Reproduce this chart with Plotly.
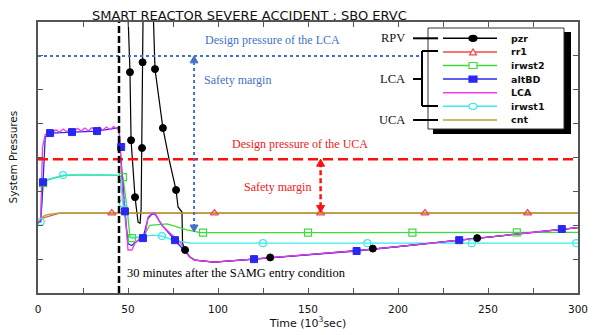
import plotly.graph_objects as go

# ---------------- data (time in 10^3 s, pressure in axis units 0..8) ----------------
x_tick_vals = [0, 50, 100, 150, 200, 250, 300]
x_tick_text = ["0", "50", "100", "150", "200", "250", "300"]
x_minor_vals = [25, 75, 125, 175, 225, 275]

pzr_t = [0, 20, 45, 49.5, 51.1, 51.7, 53.9, 55.6, 56.7, 57.3, 57.8, 58.1, 58.6, 61, 63.6, 65,
         69.4, 73, 76.7, 77.8, 80, 80.3, 81.7, 84.4, 87.2, 97.8, 120, 150, 177, 200, 234, 260, 291, 300]
pzr_v = [15, 15, 15, 9, 6.52, 4.51, 2.83, 2.09, 2.06, 2.5, 4.28, 6.81, 9.5, 12, 9, 6.61,
         4.87, 3.9, 3.04, 2.54, 2.39, 1.47, 1.27, 1.06, 0.97, 0.91, 1.0, 1.12, 1.25, 1.37, 1.56, 1.7, 1.88, 1.93]
pzr_mk_t = [51.1, 51.7, 53.9, 57.8, 58.1, 65, 69.4, 76.7, 81.7, 129, 186, 244]
pzr_mk_v = [6.52, 4.51, 2.83, 4.28, 6.81, 6.61, 4.87, 3.04, 1.27, 1.05, 1.31, 1.62]

rr1_t = [0, 2, 12, 300]
rr1_v = [2.05, 2.2, 2.36, 2.36]
rr1_mk_t = [41, 98, 157, 215, 272]
rr1_mk_v = [2.36, 2.36, 2.36, 2.36, 2.36]

irwst2_t = [0, 1.5, 2.8, 6, 15, 30, 45, 47.2, 49.4, 51.1, 52.2, 58.3, 62.2, 71.7, 82.8, 90, 150, 208, 266, 300]
irwst2_v = [2.09, 2.1, 3.24, 3.35, 3.47, 3.49, 3.47, 3.42, 2.54, 1.65, 1.62, 1.65, 2.0, 2.04, 1.86, 1.78,
            1.78, 1.78, 1.79, 1.79]
irwst2_mk_t = [2.8, 47.2, 52.2, 91.7, 150, 208, 266]
irwst2_mk_v = [3.24, 3.42, 1.62, 1.78, 1.78, 1.78, 1.79]

altBD_t = [0, 1.5, 2.8, 4, 6.7, 18.9, 32.8, 45, 45.6, 48.3, 50, 52.2, 53.9, 58.3, 61.1, 63.3, 65, 68.9,
           76.1, 84.4, 87.2, 97.8, 120, 177, 234, 291, 300]
altBD_v = [2.09, 2.12, 3.27, 4.6, 4.72, 4.75, 4.78, 4.88, 4.31, 2.41, 1.45, 1.4, 1.5, 1.62, 2.2, 2.33,
           2.33, 2.0, 1.56, 1.06, 0.97, 0.91, 1.0, 1.24, 1.56, 1.89, 1.93]
altBD_mk_t = [2.8, 6.7, 18.9, 32.8, 46.2, 48.3, 58.3, 76.1, 120, 177, 234, 291]
altBD_mk_v = [3.27, 4.72, 4.75, 4.78, 4.31, 2.41, 1.62, 1.56, 1.0, 1.24, 1.56, 1.89]

LCA_t = [0, 1.5, 2.5, 4, 6, 8, 10, 12, 14, 16, 18, 20, 22, 24, 26, 28, 30, 32, 34, 36, 38, 40, 42, 44,
         45, 45.6, 47, 48.3, 49.4, 50, 52.2, 53.9, 56.7, 59.4, 61.1, 63.3, 65, 68.9, 73.3, 78.9,
         84.4, 87.2, 97.8, 120, 150, 177, 200, 234, 260, 291, 300]
LCA_v = [2.09, 2.15, 4.3, 4.68, 4.72, 4.74, 4.82, 4.75, 4.84, 4.76, 4.85, 4.77, 4.86, 4.78, 4.87, 4.79,
         4.88, 4.80, 4.89, 4.81, 4.90, 4.82, 4.91, 4.84, 4.9, 4.31, 3.04, 2.45, 1.77, 1.27, 1.27, 1.47,
         1.62, 1.65, 2.24, 2.36, 2.36, 2.0, 1.77, 1.5, 1.06, 0.97, 0.91, 1.0, 1.12, 1.25, 1.37, 1.56,
         1.7, 1.88, 1.93]

irwst1_t = [0, 1.5, 2.2, 5, 13.9, 25, 44.4, 45.6, 47.2, 48.3, 49.4, 50, 56.7, 63.9, 68.9, 75, 84.4,
            125, 183, 241, 300]
irwst1_v = [2.09, 2.1, 3.27, 3.35, 3.48, 3.5, 3.48, 3.39, 2.65, 2.15, 1.77, 1.65, 1.65, 1.71, 1.68,
            1.56, 1.47, 1.47, 1.47, 1.47, 1.47]
irwst1_mk_t = [1.5, 13.9, 47.2, 68.9, 125, 183, 241, 299]
irwst1_mk_v = [2.1, 3.48, 2.65, 1.68, 1.47, 1.47, 1.47, 1.47]

cnt_t = [0, 1, 2, 3, 5, 8, 12, 300]
cnt_v = [2.05, 2.1, 2.2, 2.26, 2.31, 2.34, 2.36, 2.36]

lca_design = 7.0
lca_design_end = 213
uca_design = 3.95
samg_time = 45
lca_arrow_t, lca_arrow_low = 86.7, 1.80
uca_arrow_t, uca_arrow_low = 157, 2.38

# ---------------- styling ----------------
C = {"pzr": "#000000", "rr1": "#F04848", "irwst2": "#3CDC3C", "altBD": "#2828F0",
     "LCA": "#F03CE6", "irwst1": "#3CE8EC", "cnt": "#ADA83A"}
BLUE_TXT = "#4472C4"
RED_TXT = "#F01818"
RED_LINE = "#FF1010"
AX = "#555555"

# The page body adds an 8 px margin, so the figure is laid out 8 px up/left of window coordinates.
OFF = 8
W, H = 597 - OFF, 335 - OFF
# plot-area edges in window pixels
PL, PR, PT, PB = 38, 578, 22, 293
T_PER_PX = 300 / (PR - PL)
V_PER_PX = 8 / (PB - PT)


def px(x):
    return (x - PL) / (PR - PL)


def py(y):
    return (PB - y) / (PB - PT)


fig = go.Figure()


def line(t, v, name, width=1.3):
    fig.add_trace(go.Scatter(x=t, y=v, mode="lines", name=name, showlegend=False,
                             line=dict(color=C[name], width=width), hoverinfo="skip"))


def marks(t, v, name, symbol, size, fill, lw=1.2):
    fig.add_trace(go.Scatter(x=t, y=v, mode="markers", name=name, showlegend=False,
                             marker=dict(symbol=symbol, size=size, color=fill,
                                         line=dict(color=C[name], width=lw)),
                             hoverinfo="skip"))


line(rr1_t, rr1_v, "rr1")
line(pzr_t, pzr_v, "pzr", 1.2)
line(cnt_t, cnt_v, "cnt", 1.5)
line(irwst2_t, irwst2_v, "irwst2")
line(irwst1_t, irwst1_v, "irwst1")
line(altBD_t, altBD_v, "altBD")
line(LCA_t, LCA_v, "LCA")

marks(rr1_mk_t, rr1_mk_v, "rr1", "triangle-up", 7, "rgba(255,255,255,0)")
marks(irwst2_mk_t, irwst2_mk_v, "irwst2", "square", 7, "rgba(255,255,255,0)")
marks(irwst1_mk_t, irwst1_mk_v, "irwst1", "circle", 7, "rgba(255,255,255,0)")
marks(altBD_mk_t, altBD_mk_v, "altBD", "square", 7, C["altBD"], 1)
marks(pzr_mk_t, pzr_mk_v, "pzr", "circle", 7, C["pzr"], 1)

shapes = []
# reference lines
shapes.append(dict(type="line", xref="x", yref="y", x0=0, x1=lca_design_end, y0=lca_design, y1=lca_design,
                   line=dict(color=BLUE_TXT, width=2, dash="dot"), layer="above"))
shapes.append(dict(type="line", xref="x", yref="y", x0=0, x1=300, y0=uca_design, y1=uca_design,
                   line=dict(color=RED_LINE, width=2.5, dash="10px,5px"), layer="above"))
shapes.append(dict(type="line", xref="x", yref="paper", x0=samg_time, x1=samg_time, y0=0, y1=1,
                   line=dict(color="#000000", width=2.5, dash="7px,3px"), layer="above"))
# safety margin arrows (shafts)
shapes.append(dict(type="line", xref="x", yref="y", x0=lca_arrow_t, x1=lca_arrow_t,
                   y0=lca_arrow_low + 0.15, y1=lca_design - 0.15,
                   line=dict(color=BLUE_TXT, width=2, dash="dot"), layer="above"))
shapes.append(dict(type="line", xref="x", yref="y", x0=uca_arrow_t, x1=uca_arrow_t,
                   y0=uca_arrow_low + 0.15, y1=uca_design - 0.15,
                   line=dict(color=RED_LINE, width=2.5, dash="5px,3px"), layer="above"))


def arrow_head(t, v, direction, color):
    """Triangle head whose tip is at (t, v); direction +1 points up, -1 points down."""
    hw, hh = 4 * T_PER_PX, 7 * V_PER_PX
    base = v - direction * hh
    path = "M {:.4f},{:.4f} L {:.4f},{:.4f} L {:.4f},{:.4f} Z".format(t - hw, base, t + hw, base, t, v)
    return dict(type="path", xref="x", yref="y", path=path, fillcolor=color, line=dict(color=color, width=1),
                layer="above")


shapes.append(arrow_head(lca_arrow_t, lca_design, 1, BLUE_TXT))
shapes.append(arrow_head(lca_arrow_t, lca_arrow_low, -1, BLUE_TXT))
shapes.append(arrow_head(uca_arrow_t, uca_design, 1, RED_LINE))
shapes.append(arrow_head(uca_arrow_t, uca_arrow_low, -1, RED_LINE))

# ---- legend box (drawn by hand to match the compact original) ----
LX0, LY0, LX1, LY1 = 428, 28, 564, 129
shapes.append(dict(type="rect", xref="paper", yref="paper", x0=px(LX0 + 5), x1=px(LX1 + 7),
                   y0=py(LY1 + 5), y1=py(LY0 + 4), fillcolor="#000000", line=dict(width=0), layer="above"))
shapes.append(dict(type="rect", xref="paper", yref="paper", x0=px(LX0), x1=px(LX1),
                   y0=py(LY1), y1=py(LY0), fillcolor="#FFFFFF", line=dict(color="#333333", width=1),
                   layer="above"))

legend_rows = [("pzr", "circle", True), ("rr1", "triangle", False), ("irwst2", "square", False),
               ("altBD", "square", True), ("LCA", None, False), ("irwst1", "circle", False),
               ("cnt", None, False)]
annotations = []
row_y0, row_dy = 38.3, 13.6
for i, (nm, sym, filled) in enumerate(legend_rows):
    yy = row_y0 + i * row_dy
    shapes.append(dict(type="line", xref="paper", yref="paper", x0=px(443), x1=px(497), y0=py(yy), y1=py(yy),
                       line=dict(color=C[nm], width=1.5), layer="above"))
    fillc = C[nm] if filled else "#FFFFFF"
    cx = 473
    if sym == "circle":
        shapes.append(dict(type="circle", xref="paper", yref="paper", x0=px(cx - 4), x1=px(cx + 4),
                           y0=py(yy + 3), y1=py(yy - 3), fillcolor=fillc,
                           line=dict(color=C[nm], width=1.2), layer="above"))
    elif sym == "square":
        shapes.append(dict(type="rect", xref="paper", yref="paper", x0=px(cx - 4), x1=px(cx + 4),
                           y0=py(yy + 3), y1=py(yy - 3), fillcolor=fillc,
                           line=dict(color=C[nm], width=1.2), layer="above"))
    elif sym == "triangle":
        path = "M {:.4f},{:.4f} L {:.4f},{:.4f} L {:.4f},{:.4f} Z".format(
            px(cx - 3.5), py(yy + 3), px(cx + 3.5), py(yy + 3), px(cx), py(yy - 3))
        shapes.append(dict(type="path", xref="paper", yref="paper", path=path, fillcolor="#FFFFFF",
                           line=dict(color=C[nm], width=1.2), layer="above"))
    annotations.append(dict(xref="paper", yref="paper", x=px(509), y=py(yy), xanchor="left", yanchor="middle",
                            text="<b>%s</b>" % nm, showarrow=False,
                            font=dict(family="DejaVu Sans", size=9.5, color="#111111")))

# RPV / LCA / UCA brackets
BK = dict(color="#000000", width=2)
for (x0, x1, y0, y1) in [(413, 438, 38.3, 38.3), (422, 422, 51, 106), (422, 438, 51, 51),
                         (422, 438, 106, 106), (413, 422, 79, 79), (413, 438, 120, 120)]:
    shapes.append(dict(type="line", xref="paper", yref="paper", x0=px(x0), x1=px(x1), y0=py(y0), y1=py(y1),
                       line=BK, layer="above"))
for lbl, yy in [("RPV", 38.3), ("LCA", 79), ("UCA", 120)]:
    annotations.append(dict(xref="paper", yref="paper", x=px(407), y=py(yy), xanchor="right", yanchor="middle",
                            text=lbl, showarrow=False,
                            font=dict(family="Liberation Serif", size=12.5, color="#111111")))

SERIF = "Liberation Serif"
annotations += [
    dict(x=130, y=7.47, text="Design pressure of the LCA", showarrow=False, xanchor="center", yanchor="middle",
         font=dict(family=SERIF, size=12, color=BLUE_TXT)),
    dict(x=91.1, y=6.3, text="Safety margin", showarrow=False, xanchor="left", yanchor="middle",
         font=dict(family=SERIF, size=12, color=BLUE_TXT)),
    dict(x=145.6, y=4.40, text="Design pressure of the UCA", showarrow=False, xanchor="center", yanchor="middle",
         font=dict(family=SERIF, size=12, color=RED_TXT)),
    dict(x=132.8, y=3.13, text="Safety margin", showarrow=False, xanchor="center", yanchor="middle",
         font=dict(family=SERIF, size=12, color=RED_TXT)),
    dict(x=48.3, y=0.59, text="30 minutes after the SAMG entry condition", showarrow=False, xanchor="left",
         yanchor="middle", font=dict(family=SERIF, size=12.5, color="#000000")),
    dict(xref="paper", yref="paper", x=px(12), y=0.5, text="System Pressures", textangle=-90, showarrow=False,
         xanchor="center", yanchor="middle", font=dict(family="DejaVu Sans", size=10.5, color="#111111")),
    dict(xref="paper", yref="paper", x=px(249), y=py(15.5), text="SMART REACTOR SEVERE ACCIDENT : SBO ERVC",
         showarrow=False, xanchor="center", yanchor="middle",
         font=dict(family="DejaVu Sans", size=13, color="#111111")),
]

fig.update_layout(
    width=W, height=H,
    margin=dict(l=PL - OFF, r=(597 - PR), t=PT - OFF, b=(335 - PB), autoexpand=False),
    paper_bgcolor="#FFFFFF", plot_bgcolor="#FFFFFF",
    showlegend=False,
    xaxis=dict(range=[0, 300], tickvals=x_tick_vals, ticktext=x_tick_text, ticks="inside", ticklen=5,
               tickwidth=1.2, tickcolor=AX, showline=True, linecolor=AX, linewidth=1.5, mirror="ticks",
               showgrid=False, zeroline=False, ticklabelstandoff=6,
               minor=dict(tickvals=x_minor_vals, ticks="inside", ticklen=5, tickwidth=1.2, tickcolor=AX),
               tickfont=dict(family="DejaVu Sans", size=10.5, color="#111111"),
               title=dict(text="Time (10<sup>3</sup>sec)", standoff=2,
                          font=dict(family="DejaVu Sans", size=11, color="#111111"))),
    yaxis=dict(range=[0, 8], dtick=1, tick0=0, ticks="inside", ticklen=5, tickwidth=1.2, tickcolor=AX,
               showticklabels=False, showline=True, linecolor=AX, linewidth=1.5, mirror="ticks",
               showgrid=False, zeroline=False),
    shapes=shapes,
    annotations=annotations,
)

fig.write_html("out.html")
